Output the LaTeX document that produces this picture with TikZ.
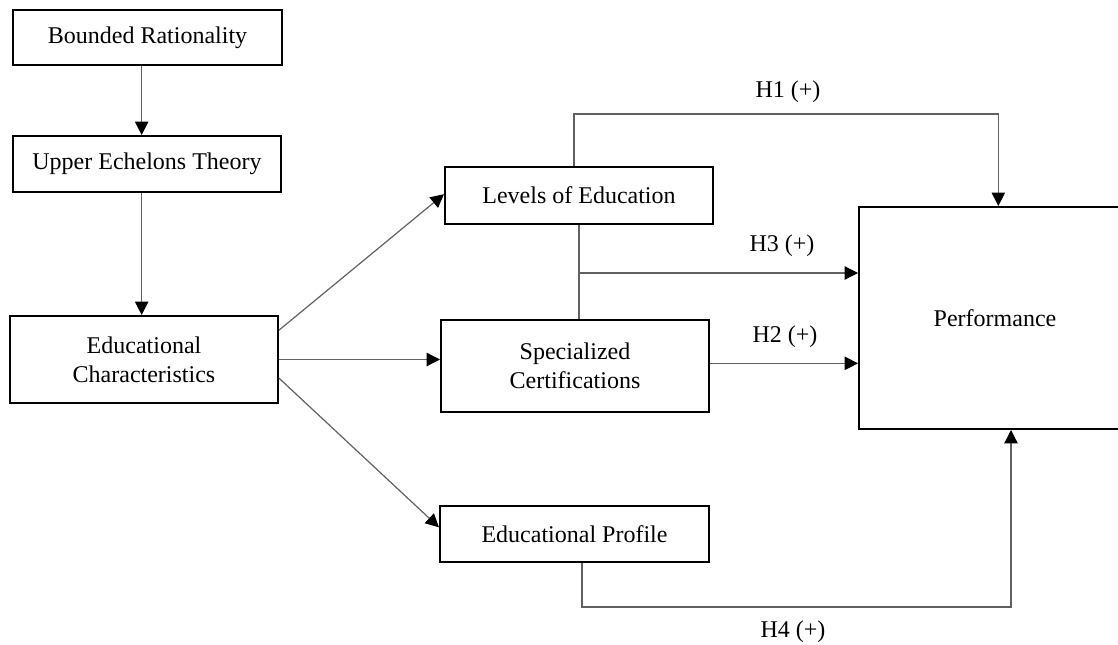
\documentclass[tikz,border=0pt]{standalone}
\usepackage{fontspec}
\setmainfont{Liberation Serif}
\usetikzlibrary{arrows.meta}
\begin{document}
\begin{tikzpicture}[x=0.75pt,y=-0.75pt,
  box/.style={draw, line width=1.5pt, inner sep=0pt, align=center,
    font=\fontsize{18}{22}\selectfont},
  conn/.style={draw=black!62, line width=0.9pt},
  arr/.style={conn, -{Triangle[length=10pt,width=10pt,color=black]}},
  lbl/.style={font=\fontsize{18}{22}\selectfont, inner sep=0pt}]
\clip (0,0) rectangle (1118,645);
\fill[white] (0,0) rectangle (1118,645);

\node[box, minimum width={269*0.75pt}, minimum height={55*0.75pt}] (BR) at (147.5,37.5) {Bounded Rationality};
\node[box, minimum width={268*0.75pt}, minimum height={56*0.75pt}] (UE) at (147,164) {Upper Echelons Theory};
\node[box, minimum width={268*0.75pt}, minimum height={87*0.75pt}] (EC) at (144,359.5) {Educational\\Characteristics};
\node[box, minimum width={268*0.75pt}, minimum height={57*0.75pt}] (LE) at (579,195.5) {Levels of Education};
\node[box, minimum width={268*0.75pt}, minimum height={92*0.75pt}] (SC) at (575,366) {Specialized\\Certifications};
\node[box, minimum width={269*0.75pt}, minimum height={56*0.75pt}] (EP) at (574.5,534) {Educational Profile};
\node[box, minimum width={272*0.75pt}, minimum height={222*0.75pt}] (PF) at (995,318) {Performance};

\draw[arr] ([xshift=-4pt]UE.north |- BR.south) -- ([xshift=-4pt]UE.north);
\draw[arr] ([xshift=-4pt]UE.south) -- ([xshift=-4pt]UE.south |- EC.north);
\draw[arr] ([yshift=22pt]EC.east) -- ([yshift=1pt]LE.west);
\draw[arr] (EC.east) -- (EC.east -| SC.west);
\draw[arr] ([yshift=-14pt]EC.east) -- ([yshift=5pt]EP.west);

\draw[arr] ([xshift=-3.75pt]LE.north) -- ++(0,-52) -| ([xshift=2.5pt]PF.north);
\node[lbl] (h1) at (788,92) {H1 (+)};

\draw[conn] (LE.south) -- (LE.south |- SC.north);
\coordinate (j) at (579,273);
\draw[arr] (j) -- (j -| PF.west);
\node[lbl] (h3) at (782,246) {H3 (+)};

\draw[arr] ([yshift=2pt]SC.east) -- ([yshift=2pt]SC.east -| PF.west);
\node[lbl] (h2) at (785,337) {H2 (+)};

\draw[arr] ([xshift=5.6pt]EP.south) -- ++(0,44) -| ([xshift=12pt]PF.south);
\node[lbl] (h4) at (793,632) {H4 (+)};
\end{tikzpicture}
\end{document}
